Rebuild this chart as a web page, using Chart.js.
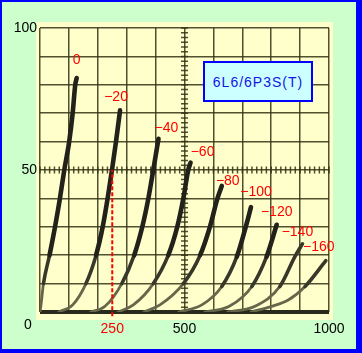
<!DOCTYPE html>
<html>
<head>
<meta charset="utf-8">
<script src="https://cdn.jsdelivr.net/npm/chart.js@4.4.0/dist/chart.umd.min.js"></script>
<style>
  html, body { margin: 0; padding: 0; }
  body { width: 362px; height: 353px; overflow: hidden; position: relative; }
  .frame {
    position: absolute; left: 0; top: 0; width: 362px; height: 353px; box-sizing: border-box;
    background: #ccffcc; border-style: solid; border-color: #0000ff; border-width: 2px 6px 4px 2px;
  }
  #tubeChart { position: absolute; left: 0; top: 0; }
  .tube-name {
    position: absolute; left: 203px; top: 61px; width: 110px; height: 41px; box-sizing: border-box;
    border: 2px solid #0000ff; background: #ccffff; color: #1414e6;
    font: 14px "Liberation Sans", Arial, sans-serif; letter-spacing: 1px;
    display: flex; align-items: center; justify-content: center;
  }
</style>
</head>
<body>
<div class="frame"></div>
<canvas id="tubeChart" width="362" height="353"></canvas>
<div class="tube-name">6L6/6P3S(T)</div>
<script>
// grid bias of each curve (V)
const biasLabels = ['0', '\u221220', '\u221240', '\u221260', '\u221280', '\u2212100', '\u2212120', '\u2212140', '\u2212160'];

// plate voltage (V), plate current (mA)
const curve0   = [[0, 0], [4, 3], [12, 10], [33, 20], [52, 30], [69, 40], [84, 50], [101, 60], [113, 70], [122, 80], [127, 82.4]];
const curve20  = [[65, 0], [113, 2.5], [159, 10], [194, 20], [217, 30], [234, 40], [249, 50], [263, 60], [277, 71]];
const curve40  = [[175, 0], [225, 2], [283, 10], [326, 20], [354, 30], [375, 40], [392, 50], [410, 61]];
const curve60  = [[270, 0], [323, 2.5], [392, 10], [444, 20], [475, 30], [496, 40], [513, 50], [521, 52.6]];
const curve80  = [[360, 0], [415, 2.5], [496, 10], [554, 20], [588, 30], [614, 40], [629, 44.4]];
const curve100 = [[480, 0], [560, 2.5], [629, 9], [681, 19.5], [712, 30], [730, 36.9]];
const curve120 = [[570, 0], [655, 2], [733, 9], [784, 19.5], [819, 30.7]];
const curve140 = [[650, 0], [744, 2], [830, 9], [882, 19.5], [908, 24]];
const curve160 = [[730, 0], [802, 2], [859, 4.2], [917, 9], [989, 18.1]];
const curves = [curve0, curve20, curve40, curve60, curve80, curve100, curve120, curve140, curve160];

const baseline = [[0, 0], [1000, 0]];
const markerLine = [[250, -1.5], [250, 50]];

const xTickValues = [0, 100, 200, 250, 300, 400, 500, 600, 700, 800, 900, 1000];
const xLabelValues = [250, 500, 1000];
const yTickValues = [0, 10, 20, 30, 40, 50, 60, 70, 80, 90, 100];
const yLabelValues = [50, 100];
const originLabel = '0';

// where each red label sits relative to the end of its curve (px)
const labelOffsets = [[0, -18], [-4, -13], [8, -11], [12, -10], [6, -5], [5, -15], [0, -13], [-5, -12], [-7, -13]];

const gridColor = 'rgba(50, 50, 20, 0.85)';
const curveDark = '#22221a';
const curveMid = '#38382a';
const curveLight = '#66664a';

const toPts = (arr) => arr.map(p => ({ x: p[0], y: p[1] }));

Chart.defaults.font.family = '"Liberation Sans", Arial, sans-serif';
Chart.defaults.font.size = 14;

const paperBg = {
  id: 'paperBg',
  beforeDraw(chart) {
    const { ctx, chartArea: a } = chart;
    ctx.save();
    ctx.fillStyle = '#ffffcc';
    ctx.fillRect(a.left - 4, a.top - 6, a.right - a.left + 8, a.bottom - a.top + 14);
    ctx.restore();
  }
};

// little cross ticks along the 500 V and 50 mA lines
const crossTicks = {
  id: 'crossTicks',
  beforeDatasetsDraw(chart) {
    const { ctx, scales: { x, y } } = chart;
    const cx = x.getPixelForValue(500);
    const cy = y.getPixelForValue(50);
    ctx.save();
    ctx.strokeStyle = gridColor;
    ctx.lineWidth = 1.5;
    ctx.beginPath();
    for (let i = 0; i <= 60; i++) {
      const px = x.getPixelForValue(i * 1000 / 60);
      ctx.moveTo(px, cy - 3.5); ctx.lineTo(px, cy + 3.5);
      const py = y.getPixelForValue(i * 100 / 60);
      ctx.moveTo(cx - 3.5, py); ctx.lineTo(cx + 3.5, py);
    }
    ctx.stroke();
    ctx.restore();
  }
};

const curveLabels = {
  id: 'curveLabels',
  afterDatasetsDraw(chart) {
    const { ctx, chartArea } = chart;
    ctx.save();
    ctx.font = '14px "Liberation Sans", Arial, sans-serif';
    ctx.textAlign = 'center';
    ctx.textBaseline = 'middle';
    ctx.fillStyle = '#ff0000';
    biasLabels.forEach((txt, i) => {
      const pts = chart.getDatasetMeta(i).data;
      const last = pts[pts.length - 1];
      ctx.fillText(txt, last.x + labelOffsets[i][0], last.y + labelOffsets[i][1]);
    });
    ctx.fillStyle = '#000';
    ctx.fillText(originLabel, chartArea.left - 12, chartArea.bottom + 13);
    ctx.restore();
  }
};

const curveSets = curves.map((c, i) => ({
  label: biasLabels[i],
  data: toPts(c),
  borderColor: curveDark,
  borderWidth: 3.5,
  pointRadius: 0,
  cubicInterpolationMode: 'monotone',
  borderCapStyle: 'round',
  borderJoinStyle: 'round',
  segment: {
    borderWidth: ctx => {
      const top = Math.max(ctx.p0.parsed.y, ctx.p1.parsed.y);
      return top > 25 ? 4.6 : top > 10 ? 3.6 : 2.8;
    },
    borderColor: ctx => {
      const top = Math.max(ctx.p0.parsed.y, ctx.p1.parsed.y);
      return top > 25 ? curveDark : top > 10 ? curveMid : curveLight;
    }
  }
}));

new Chart(document.getElementById('tubeChart'), {
  type: 'line',
  data: {
    datasets: curveSets.concat([
      { label: 'base', data: toPts(baseline), borderColor: '#2a2a1c', borderWidth: 4, pointRadius: 0, clip: false, order: 1 },
      { label: '250V', data: toPts(markerLine), borderColor: '#ff0000', borderWidth: 2, borderDash: [4, 2], pointRadius: 0, clip: false, order: -1 }
    ])
  },
  options: {
    responsive: false,
    animation: false,
    layout: { padding: { top: 28, right: 33, bottom: 0, left: 0 } },
    plugins: { legend: { display: false }, tooltip: { enabled: false } },
    scales: {
      x: {
        type: 'linear', min: 0, max: 1000,
        afterBuildTicks: s => { s.ticks = xTickValues.map(v => ({ value: v })); },
        afterFit: s => { s.height = 41; },
        grid: {
          color: c => (c.tick && c.tick.value === 250) ? 'rgba(0,0,0,0)' : gridColor,
          lineWidth: 1.5, drawTicks: false
        },
        border: { display: false },
        ticks: {
          autoSkip: false, maxRotation: 0, padding: 9,
          color: c => (c.tick && c.tick.value === 250) ? '#ff0000' : '#000',
          callback: v => xLabelValues.includes(v) ? String(v) : ''
        }
      },
      y: {
        type: 'linear', min: 0, max: 100,
        afterBuildTicks: s => { s.ticks = yTickValues.map(v => ({ value: v })); },
        afterFit: s => { s.width = 40; },
        grid: { color: gridColor, lineWidth: 1.5, drawTicks: false },
        border: { display: false },
        ticks: {
          autoSkip: false, padding: 3, color: '#000',
          callback: v => yLabelValues.includes(v) ? String(v) : ''
        }
      }
    }
  },
  plugins: [paperBg, crossTicks, curveLabels]
});
</script>
</body>
</html>
